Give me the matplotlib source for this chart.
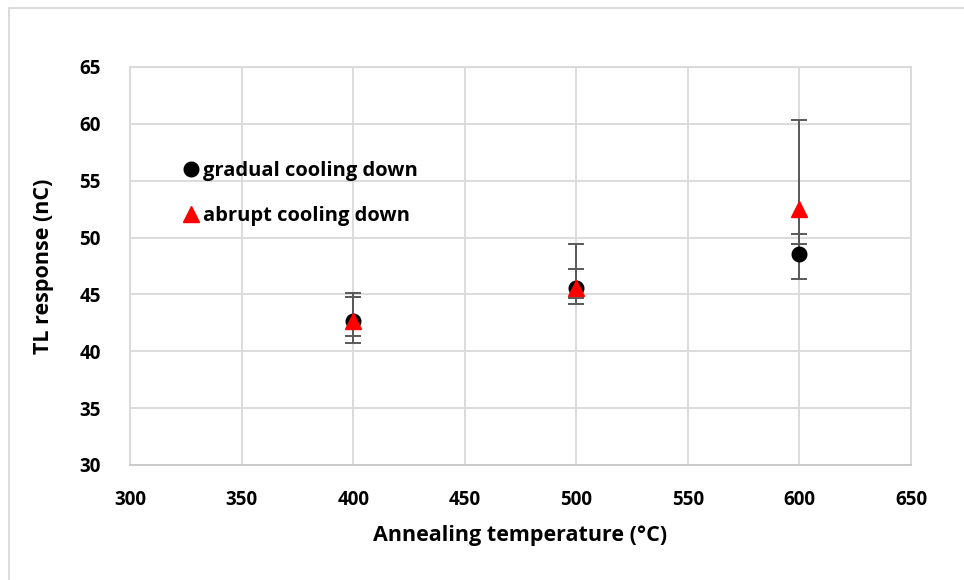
import matplotlib
matplotlib.use("Agg")
import matplotlib.pyplot as plt
from matplotlib.lines import Line2D
import numpy as np

plt.rcParams['font.family'] = ['Open Sans', 'DejaVu Sans']
plt.rcParams['font.weight'] = 'bold'

# annealing temperatures and TL response (nC)
temps = [400, 500, 600]
gradual = [42.65, 45.55, 48.55]
gradual_lo = [1.9, 1.35, 2.15]
gradual_hi = [2.45, 1.7, 1.8]
abrupt = [42.65, 45.6, 52.55]
abrupt_lo = [1.3, 0.9, 3.1]
abrupt_hi = [2.15, 3.8, 7.75]

grid_col = '#d9d9d9'
err_col = '#595959'

fig = plt.figure(figsize=(9.64, 5.8), dpi=100)
ax = fig.add_axes([130/964, 1-465/580, (911-130)/964, (465-67)/580])

ax.errorbar(temps, gradual, yerr=[gradual_lo, gradual_hi], fmt='o', color='black',
            markersize=10.5, ecolor=err_col, elinewidth=1.4, capsize=6, capthick=1.4,
            zorder=3)
ax.errorbar(temps, abrupt, yerr=[abrupt_lo, abrupt_hi], fmt='^', color='red',
            markersize=11.5, ecolor=err_col, elinewidth=1.4, capsize=6, capthick=1.4,
            zorder=4)

ax.set_xlim(300, 650)
ax.set_ylim(30, 65)
ax.set_xticks(np.arange(300, 651, 50))
ax.set_yticks(np.arange(30, 66, 5))
ax.grid(True, color=grid_col, linewidth=1.3)
ax.set_axisbelow(True)
for s in ax.spines.values():
    s.set_color(grid_col)
    s.set_linewidth(1.3)
ax.spines['bottom'].set_color('#c8c8c8')
ax.tick_params(length=0, labelsize=13.5, pad=18, colors='black')
ax.tick_params(axis='y', pad=21)
for lab in ax.get_xticklabels() + ax.get_yticklabels():
    lab.set_fontweight('bold')

ax.set_xlabel('Annealing temperature (°C)', fontsize=15.5, fontweight='bold', labelpad=11)
ax.set_ylabel('TL response (nC)', fontsize=15.5, fontweight='bold', labelpad=18)

handles = [Line2D([], [], marker='o', color='black', linestyle='none', markersize=10.5),
           Line2D([], [], marker='^', color='red', linestyle='none', markersize=11.5)]
ax.legend(handles, ['gradual cooling down', 'abrupt cooling down'],
          loc='upper left', bbox_to_anchor=(0.052, 0.785), frameon=False,
          handletextpad=0.0, handlelength=1.2, labelspacing=1.25,
          borderaxespad=0, prop={'size': 14.5, 'weight': 'bold'})

# outer chart frame
fig.add_artist(Line2D([9/964, 9/964], [0, 1-8/580], color=grid_col, linewidth=1.3))
fig.add_artist(Line2D([9/964, 1], [1-8/580, 1-8/580], color=grid_col, linewidth=1.3))

fig.savefig('out.png', dpi=100)
